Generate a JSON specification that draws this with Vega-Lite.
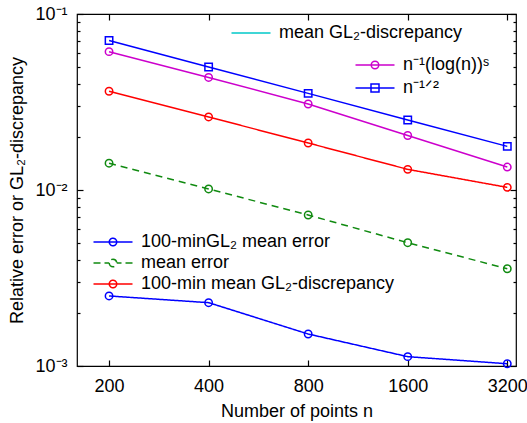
{
  "$schema": "https://vega.github.io/schema/vega-lite/v6.json",
  "width": 439,
  "height": 352,
  "autosize": {"type": "none"},
  "padding": {"left": 77, "top": 14, "right": 11, "bottom": 57},
  "background": "white",
  "config": {
    "font": "Liberation Sans",
    "view": {"stroke": "black", "strokeWidth": 1.2},
    "axis": {"grid": false, "domain": false, "tickColor": "black", "tickWidth": 1.2, "labelColor": "black", "titleColor": "black", "labelFont": "Liberation Sans", "titleFont": "Liberation Sans", "labelFontSize": 18, "titleFontSize": 18, "titleFontWeight": "normal"},
    "legend": {"labelFont": "Liberation Sans", "labelFontSize": 18, "labelColor": "black", "labelLimit": 0, "symbolSize": 100, "symbolStrokeWidth": 1.5, "labelOffset": 19, "padding": 0, "titlePadding": 0}
  },
  "datasets": {
    "ref": [
      {"n": 200, "value": 0.0611, "series": "n⁻¹(log(n))ˢ"},
      {"n": 400, "value": 0.0436, "series": "n⁻¹(log(n))ˢ"},
      {"n": 800, "value": 0.0308, "series": "n⁻¹(log(n))ˢ"},
      {"n": 1600, "value": 0.0204, "series": "n⁻¹(log(n))ˢ"},
      {"n": 3200, "value": 0.0135, "series": "n⁻¹(log(n))ˢ"},
      {"n": 200, "value": 0.0707, "series": "n⁻¹ᐟ²"},
      {"n": 400, "value": 0.05, "series": "n⁻¹ᐟ²"},
      {"n": 800, "value": 0.0354, "series": "n⁻¹ᐟ²"},
      {"n": 1600, "value": 0.025, "series": "n⁻¹ᐟ²"},
      {"n": 3200, "value": 0.0177, "series": "n⁻¹ᐟ²"}
    ],
    "res": [
      {"n": 200, "value": 0.0025, "series": "100-minGL₂ mean error"},
      {"n": 400, "value": 0.00229, "series": "100-minGL₂ mean error"},
      {"n": 800, "value": 0.00152, "series": "100-minGL₂ mean error"},
      {"n": 1600, "value": 0.00113, "series": "100-minGL₂ mean error"},
      {"n": 3200, "value": 0.00103, "series": "100-minGL₂ mean error"},
      {"n": 200, "value": 0.0142, "series": "mean error"},
      {"n": 400, "value": 0.01014, "series": "mean error"},
      {"n": 800, "value": 0.00721, "series": "mean error"},
      {"n": 1600, "value": 0.00502, "series": "mean error"},
      {"n": 3200, "value": 0.00357, "series": "mean error"},
      {"n": 200, "value": 0.0364, "series": "100-min mean GL₂-discrepancy"},
      {"n": 400, "value": 0.026, "series": "100-min mean GL₂-discrepancy"},
      {"n": 800, "value": 0.0185, "series": "100-min mean GL₂-discrepancy"},
      {"n": 1600, "value": 0.0131, "series": "100-min mean GL₂-discrepancy"},
      {"n": 3200, "value": 0.01035, "series": "100-min mean GL₂-discrepancy"}
    ]
  },
  "resolve": {
    "scale": {"color": "independent", "shape": "independent", "strokeDash": "independent"},
    "axis": {"x": "independent", "y": "independent"}
  },
  "layer": [
    {
      "data": {"values": []},
      "mark": {"type": "line", "strokeWidth": 1.5},
      "encoding": {
        "x": {"field": "n", "type": "quantitative",
          "scale": {"type": "log", "domain": [160, 3400], "nice": false},
          "axis": {"orient": "bottom", "values": [200, 400, 800, 1600, 3200], "format": "d", "tickSize": -6, "labelPadding": 17, "title": "Number of points n", "titlePadding": 7}},
        "y": {"field": "value", "type": "quantitative",
          "scale": {"type": "log", "domain": [0.001, 0.1], "nice": false},
          "axis": {"orient": "left",
            "values": [0.001, 0.002, 0.003, 0.004, 0.005, 0.006, 0.007, 0.008, 0.009, 0.01, 0.02, 0.03, 0.04, 0.05, 0.06, 0.07, 0.08, 0.09, 0.1],
            "labelExpr": "datum.value == 0.1 ? '10⁻¹' : datum.value == 0.01 ? '10⁻²' : datum.value == 0.001 ? '10⁻³' : ''",
            "labelOverlap": false,
            "tickSize": {"condition": {"test": "datum.value == 0.1 || datum.value == 0.01 || datum.value == 0.001", "value": -6}, "value": -3},
            "labelPadding": 16,
            "title": "Relative error or GL₂-discrepancy", "titlePadding": 8}},
        "color": {"field": "series", "type": "nominal",
          "scale": {"domain": ["mean GL₂-discrepancy"], "range": ["#00c8c8"]},
          "legend": {"orient": "none", "legendX": 165, "legendY": 10, "title": null,
            "encode": {"symbols": {"update": {"shape": {"value": "M-3.9,0H3.9"}, "fill": {"value": "transparent"}}}}}}
      }
    },
    {
      "data": {"name": "ref"},
      "mark": {"type": "line", "strokeWidth": 1.5},
      "encoding": {
        "x": {"field": "n", "type": "quantitative",
          "axis": {"orient": "top", "values": [200, 400, 800, 1600, 3200], "labels": false, "tickSize": -6, "title": null}},
        "y": {"field": "value", "type": "quantitative",
          "axis": {"orient": "right",
            "values": [0.001, 0.002, 0.003, 0.004, 0.005, 0.006, 0.007, 0.008, 0.009, 0.01, 0.02, 0.03, 0.04, 0.05, 0.06, 0.07, 0.08, 0.09, 0.1],
            "labels": false,
            "tickSize": {"condition": {"test": "datum.value == 0.1 || datum.value == 0.01 || datum.value == 0.001", "value": -6}, "value": -3},
            "title": null}},
        "color": {"field": "series", "type": "nominal",
          "scale": {"domain": ["n⁻¹(log(n))ˢ", "n⁻¹ᐟ²"], "range": ["#cc00cc", "#0000ff"]},
          "legend": {"orient": "none", "legendX": 289, "legendY": 42, "title": null, "rowPadding": 5,
            "encode": {"symbols": {"update": {
              "shape": {"signal": "datum.value == 'n⁻¹ᐟ²' ? 'M-3.9,0H3.9M-0.8,-0.8H0.8V0.8H-0.8Z' : 'M-3.9,0H3.9M-0.75,0A0.75,0.75 0 1,0 0.75,0A0.75,0.75 0 1,0 -0.75,0'"},
              "fill": {"value": "transparent"}}}}}}
      }
    },
    {
      "data": {"name": "ref"},
      "mark": {"type": "point", "filled": false, "strokeWidth": 1.5, "opacity": 1},
      "encoding": {
        "x": {"field": "n", "type": "quantitative", "axis": null},
        "y": {"field": "value", "type": "quantitative", "axis": null},
        "color": {"field": "series", "type": "nominal",
          "scale": {"domain": ["n⁻¹(log(n))ˢ", "n⁻¹ᐟ²"], "range": ["#cc00cc", "#0000ff"]}, "legend": null},
        "shape": {"field": "series", "type": "nominal",
          "scale": {"domain": ["n⁻¹(log(n))ˢ", "n⁻¹ᐟ²"], "range": ["circle", "square"]}, "legend": null},
        "size": {"value": 55}
      }
    },
    {
      "data": {"name": "res"},
      "mark": {"type": "line", "strokeWidth": 1.5},
      "encoding": {
        "x": {"field": "n", "type": "quantitative", "axis": null},
        "y": {"field": "value", "type": "quantitative", "axis": null},
        "color": {"field": "series", "type": "nominal",
          "scale": {"domain": ["100-minGL₂ mean error", "mean error", "100-min mean GL₂-discrepancy"], "range": ["#0000ff", "#108a10", "#ff0000"]},
          "legend": {"orient": "none", "legendX": 27, "legendY": 219, "title": null, "rowPadding": 3,
            "encode": {"symbols": {"update": {
              "shape": {"signal": "datum.value == 'mean error' ? 'M-3.9,0H-2.5M-1.7,0H-0.75M0.75,0H1.7M2.5,0H3.9M-0.75,0A0.75,0.75 0 1,0 0.75,0A0.75,0.75 0 1,0 -0.75,0' : 'M-3.9,0H3.9M-0.75,0A0.75,0.75 0 1,0 0.75,0A0.75,0.75 0 1,0 -0.75,0'"},
              "fill": {"value": "transparent"}}}}}},
        "strokeDash": {"field": "series", "type": "nominal",
          "scale": {"domain": ["100-minGL₂ mean error", "mean error", "100-min mean GL₂-discrepancy"], "range": [[1, 0], [7, 5], [1, 0]]}, "legend": null}
      }
    },
    {
      "data": {"name": "res"},
      "mark": {"type": "point", "filled": false, "strokeWidth": 1.5, "opacity": 1, "shape": "circle", "size": 55},
      "encoding": {
        "x": {"field": "n", "type": "quantitative", "axis": null},
        "y": {"field": "value", "type": "quantitative", "axis": null},
        "color": {"field": "series", "type": "nominal",
          "scale": {"domain": ["100-minGL₂ mean error", "mean error", "100-min mean GL₂-discrepancy"], "range": ["#0000ff", "#108a10", "#ff0000"]}, "legend": null}
      }
    }
  ]
}
